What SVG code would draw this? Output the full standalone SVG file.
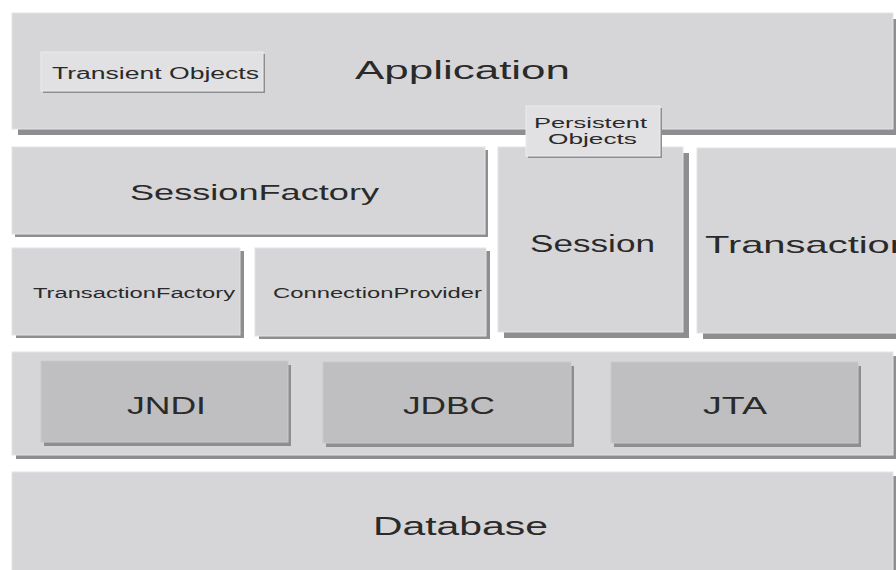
<svg xmlns="http://www.w3.org/2000/svg" width="896" height="570" viewBox="0 0 896 570">
<defs>
<style>
.box{fill:#d6d6d8;stroke:#e4e4e6;stroke-width:1}
.inner{fill:#bfbfc1;stroke:#c9c9cb;stroke-width:1}
.tag{fill:#e1e1e3;stroke:#ececee;stroke-width:1}
.sh{fill:#8e8e90}
text{font-family:"Liberation Sans",Arial,Helvetica,sans-serif;fill:#2a2a2a}
</style>
</defs>
<rect width="896" height="570" fill="#ffffff"/>
<g id="application">
<rect class="sh" x="18" y="19" width="881" height="116"/>
<rect class="box" x="12" y="13" width="881" height="116"/>
<text x="355" y="79" font-size="25" textLength="215" lengthAdjust="spacingAndGlyphs">Application</text>
</g>
<g id="transient-objects">
<rect class="sh" x="43" y="54" width="222" height="39"/>
<rect class="tag" x="41" y="52" width="222" height="39"/>
<text x="52" y="79" font-size="16" textLength="207" lengthAdjust="spacingAndGlyphs">Transient Objects</text>
</g>
<g id="session-factory">
<rect class="sh" x="15" y="150" width="473" height="87"/>
<rect class="box" x="12" y="147" width="473" height="87"/>
<text x="130" y="200" font-size="22" textLength="249" lengthAdjust="spacingAndGlyphs">SessionFactory</text>
</g>
<g id="transaction-factory">
<rect class="sh" x="16" y="251" width="228" height="87"/>
<rect class="box" x="12" y="248" width="228" height="87"/>
<text x="33" y="298" font-size="14" textLength="202" lengthAdjust="spacingAndGlyphs">TransactionFactory</text>
</g>
<g id="connection-provider">
<rect class="sh" x="259" y="251" width="231" height="88"/>
<rect class="box" x="255" y="248" width="231" height="88"/>
<text x="273" y="298" font-size="14" textLength="209" lengthAdjust="spacingAndGlyphs">ConnectionProvider</text>
</g>
<g id="session">
<rect class="sh" x="504" y="153" width="185" height="185"/>
<rect class="box" x="498" y="147" width="185" height="185"/>
<text x="530" y="252" font-size="23" textLength="125" lengthAdjust="spacingAndGlyphs">Session</text>
</g>
<g id="transaction">
<rect class="sh" x="703" y="154" width="230" height="185"/>
<rect class="box" x="697" y="148" width="230" height="185"/>
<text x="705" y="253" font-size="24" textLength="207" lengthAdjust="spacingAndGlyphs">Transaction</text>
</g>
<g id="persistent-objects">
<rect class="sh" x="528" y="108" width="134" height="50"/>
<rect class="tag" x="526" y="106" width="134" height="50"/>
<text x="534" y="128" font-size="15" textLength="113" lengthAdjust="spacingAndGlyphs">Persistent</text>
<text x="548" y="144" font-size="15" textLength="89" lengthAdjust="spacingAndGlyphs">Objects</text>
</g>
<g id="java-apis">
<rect class="sh" x="16" y="356" width="881" height="103"/>
<rect class="box" x="12" y="352" width="881" height="103"/>
</g>
<g id="jndi">
<rect class="sh" x="44" y="365" width="247" height="81"/>
<rect class="inner" x="41" y="361" width="247" height="81"/>
<text x="127" y="414" font-size="24" textLength="79" lengthAdjust="spacingAndGlyphs">JNDI</text>
</g>
<g id="jdbc">
<rect class="sh" x="326" y="366" width="248" height="81"/>
<rect class="inner" x="323" y="362" width="248" height="81"/>
<text x="403" y="414" font-size="24" textLength="92" lengthAdjust="spacingAndGlyphs">JDBC</text>
</g>
<g id="jta">
<rect class="sh" x="614" y="366" width="247" height="81"/>
<rect class="inner" x="611" y="362" width="247" height="81"/>
<text x="703" y="414" font-size="24" textLength="64" lengthAdjust="spacingAndGlyphs">JTA</text>
</g>
<g id="database">
<rect class="sh" x="16" y="476" width="881" height="110"/>
<rect class="box" x="12" y="472" width="881" height="110"/>
<text x="373" y="535" font-size="25" textLength="175" lengthAdjust="spacingAndGlyphs">Database</text>
</g>
<g id="connectors"></g>
</svg>
